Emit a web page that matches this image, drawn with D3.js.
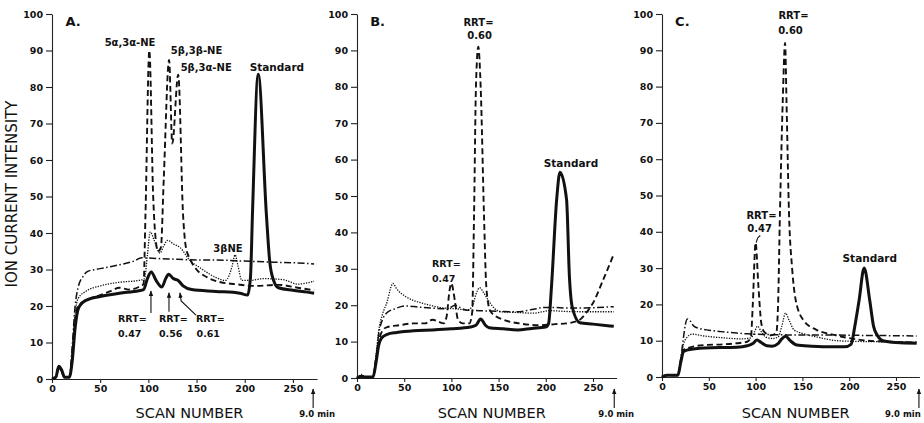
<!DOCTYPE html>
<html>
<head>
<meta charset="utf-8">
<script src="https://cdn.jsdelivr.net/npm/d3@7"></script>
<style>
body { margin: 0; background: #fff; }
svg text { font-family: "DejaVu Sans", sans-serif; fill: #111; }
.tick text { font-weight: bold; font-size: 9.5px; }
.domain, .tick line { stroke: #222; stroke-width: 1.1; }
</style>
</head>
<body>
<div id="chart"></div>
<script>

// Data: [scan number, ion current intensity]
// ============================================

// Panel A
var aSolid = [[0,0],[4,0.5],[7,3.5],[10,2.5],[13,0.5],[18,0.5],[21,5],[24,14],[27,19],[32,21],[40,22],[50,22.6],[70,23.5],[90,24.2],[95,24.5],[99,27.5],[103,29.3],[108,27],[114,25.2],[118,27.5],[121,28.7],[126,27.5],[131,27],[136,25.5],[145,24.5],[170,24],[195,23.5],[203,23],[206,28],[208,45],[214,83.5],[222.5,45],[226,32],[230,27],[235,25],[250,24.3],[265,23.8],[272,23.5]];
var aDashed = [[0,0],[4,0.5],[7,3],[10,2],[13,0.5],[18,0.5],[21,6],[24,16],[27,20],[35,21.5],[50,23],[60,24],[70,25],[80,24.5],[90,25.2],[95,26],[97,45],[101,90],[105,50],[107,40],[110,35],[113,36],[116,55],[121.5,87.4],[124.8,64.5],[131,83.4],[136,45],[139,36],[143,33],[150,30],[160,28],[175,26.5],[190,26],[210,25.5],[235,25.8],[255,25],[272,24.3]];
var aDotted = [[0,0],[4,0.5],[7,3],[10,2],[13,0.5],[18,0.5],[21,8],[24,18],[27,22],[35,24],[50,25.5],[70,26.5],[90,27],[96,27.5],[99,34],[102,40.3],[106,38],[112,34.5],[116,36.5],[120,38],[126,37],[133,36],[143,32.5],[154,30.4],[171,27.7],[180,27],[184,28.5],[187,31],[190,34],[193,31],[197,27],[205,27],[220,27.5],[240,27.2],[255,26],[272,26.8]];
var aDashDot = [[0,0],[4,0.5],[7,3],[10,2],[13,0.5],[18,0.5],[21,9],[24,20],[27,25],[32,28],[37,29.5],[45,30],[55,30.5],[70,31.3],[85,32.3],[93,33.2],[110,33],[130,32.8],[150,32.6],[170,32.6],[200,32.3],[230,32],[255,31.8],[272,31.5]];

// Panel B
var bSolid = [[0,0],[5,0.5],[8,0.3],[17,0.3],[20,4],[23,9],[26,11],[32,12],[42,12.5],[60,13],[80,13.2],[100,13.5],[120,14],[126,14.5],[131,16.2],[136,14.5],[140,13.8],[155,13.5],[170,13.2],[185,13.6],[200,14],[203,15],[206,25],[211.5,49],[215,56.5],[222,49],[225,28],[228,19.5],[236,15.2],[250,14.8],[272,14.2]];
var bDashed = [[0,0],[5,0.5],[8,0.3],[17,0.3],[20,5],[23,10],[27,13],[32,14],[45,14.5],[60,15],[72,15],[80,16],[86,15.5],[92,15],[95,17],[98,24],[100,26],[102,24],[104,20.6],[107,16],[112,15],[119,15],[122,18],[124,45],[126,80],[128.5,91],[131,80],[134.5,45],[137,25],[141,18.5],[147,17],[155,16],[172,15],[194,14.5],[210,14.8],[222,15],[236,16],[243,18],[250,20.6],[260,26.5],[272,34]];
var bDotted = [[0,0],[5,1],[8,0.3],[17,0.3],[20,6],[23,13],[27,17.5],[32,21],[36,25],[38,26],[42,24.5],[52,22.3],[60,21.3],[70,20.5],[80,19.8],[90,19.3],[105,19],[116,18.7],[122,19.5],[126,23],[130,24.8],[134,23.5],[140,21],[146,19],[152,18.2],[170,18],[187,17.8],[204,18.5],[220,18.3],[240,18.2],[272,18.2]];
var bDashDot = [[0,0],[5,0.5],[8,0.3],[17,0.3],[20,5],[23,12],[27,16],[32,18],[40,19],[52,19.8],[65,19.5],[80,19.2],[95,19],[100,19.5],[104,20],[108,19.5],[115,18.7],[130,18.5],[150,18.3],[170,18.2],[185,18.8],[200,19.4],[230,19.2],[250,19.3],[272,19.6]];

// Panel C
var cSolid = [[0,0],[5,0.5],[9,0.5],[17,0.5],[20,4],[23,7],[28,7.5],[45,8],[80,8.2],[91,8.6],[97,9.2],[101.5,10.2],[106,9.5],[112,8.6],[117.5,8.5],[124,9.2],[128,10.5],[132,11.2],[137,10],[144,8.8],[160,8.5],[180,8.3],[195,8.3],[202,9],[206,14],[210.5,21],[216,30],[222,21],[226,14],[230,11.5],[236,10],[250,9.5],[272,9.3]];
var cDashed = [[0,0],[5,0.5],[9,0.5],[17,0.5],[20,4],[23,7.5],[28,8],[45,8.8],[65,9],[80,9.3],[91,9.7],[95,11],[97,20],[100,37],[103,25],[106,15],[109,12.5],[116,11.5],[122,12],[124,20],[126,45],[129,76],[131.5,92],[133,76],[135.7,45],[139,30],[143,21],[151,15.7],[165,13],[184,11.6],[200,10.7],[220,10],[245,9.7],[272,9.5]];
var cDotted = [[0,0],[5,0.5],[9,0.5],[17,0.5],[20,5],[23,9],[27,11],[32,11.8],[45,11.3],[65,10.8],[85,10.5],[95,10.8],[99,12.5],[102,14],[106,12.5],[111,11],[118,10.6],[124,11],[128,14],[132,17.6],[136,15.5],[141,13],[150,12],[166,11],[187,10],[210,9.8],[240,9.7],[272,9.6]];
var cDashDot = [[0,0],[5,0.5],[9,0.5],[17,0.5],[20,5],[23,11],[25,14.5],[27,16],[30,15.5],[34,14],[41,13.3],[50,12.9],[63,12.5],[80,12.1],[91,11.9],[110,11.7],[140,11.6],[170,11.6],[200,11.5],[240,11.4],[272,11.3]];

// Axis ticks
var yTicks = [0, 10, 20, 30, 40, 50, 60, 70, 80, 90, 100];
var xTicks = [0, 50, 100, 150, 200, 250];

// Labels: [text, scan, intensity]
var aLabels = [["5α,3α-NE", 81, 91.2], ["5β,3β-NE", 150, 89], ["5β,3α-NE", 160, 84.4], ["Standard", 233.4, 84.4], ["3βNE", 182.6, 34.8]];
var aRrt = [["RRT=", 68.5, 15.6], ["0.47", 68.5, 11.5], ["RRT=", 111, 15.6], ["0.56", 111, 11.5], ["RRT=", 149.4, 15.6], ["0.61", 150, 11.5]];
var bLabels = [["RRT=", 128.7, 96.7], ["0.60", 129.8, 93.1], ["Standard", 226.7, 58]];
var bRrt = [["RRT=", 79.4, 30.5], ["0.47", 79.4, 26.4]];
var cLabels = [["RRT=", 140.5, 98.6], ["0.60", 137.3, 94.5], ["RRT=", 106.3, 43.5], ["0.47", 104.2, 40], ["Standard", 222, 31.7]];

// Set up the chart
// ================================
var svgWidth = 924;
var svgHeight = 423;

var svg = d3.select("#chart")
    .append("svg")
    .attr("width", svgWidth)
    .attr("height", svgHeight);

// arrowhead marker
svg.append("defs").append("marker")
    .attr("id", "head")
    .attr("viewBox", "0 0 10 10")
    .attr("refX", 9)
    .attr("refY", 5)
    .attr("markerWidth", 5)
    .attr("markerHeight", 5)
    .attr("orient", "auto")
    .append("path")
    .attr("d", "M0,1 L10,5 L0,9 Z")
    .attr("fill", "#111");

var styles = {
    dashDot: { width: 1.5, dash: "7,2.5,1.5,2.5" },
    dotted: { width: 1.3, dash: "1.3,1.3" },
    dashed: { width: 1.9, dash: "6,3.5" },
    solid: { width: 3, dash: null }
};

var panels = [
    { name: "A.", left: 52, right: 317, bottom: 379, top: 14, arrowScan: 271, minShift: 14,
      series: { dashDot: aDashDot, dotted: aDotted, dashed: aDashed, solid: aSolid },
      labels: aLabels, rrt: aRrt,
      arrows: [[[102.7, 18.1], [102.7, 24.1]], [[121.4, 18.4], [121.4, 23.6]], [[149.4, 17.5], [134, 21.4], [132.8, 23.6]]] },
    { name: "B.", left: 357, right: 616.6, bottom: 378, top: 14, arrowScan: 272.5, minShift: 16,
      series: { dashDot: bDashDot, dotted: bDotted, dashed: bDashed, solid: bSolid },
      labels: bLabels, rrt: bRrt, arrows: [] },
    { name: "C.", left: 662, right: 919.4, bottom: 377, top: 14, arrowScan: 274.5, minShift: 34,
      series: { dashDot: cDashDot, dotted: cDotted, dashed: cDashed, solid: cSolid },
      labels: cLabels, rrt: [], arrows: [],
      leaders: [[[105, 39], [102.3, 38.3], [100.7, 37]]] }
];

panels.forEach(function(p) {

    var xScale = d3.scaleLinear().domain([0, 275]).range([p.left, p.right]);
    var yScale = d3.scaleLinear().domain([0, 100]).range([p.bottom, p.top]);

    var g = svg.append("g");

    // axes
    g.append("g")
        .attr("transform", `translate(${p.left}, 0)`)
        .call(d3.axisLeft(yScale).tickValues(yTicks).tickSize(6).tickSizeOuter(0).tickPadding(3));

    g.append("g")
        .attr("transform", `translate(0, ${p.bottom})`)
        .call(d3.axisBottom(xScale).tickValues(xTicks).tickSize(4).tickSizeOuter(0).tickPadding(2));

    // traces
    var line = d3.line()
        .x(d => xScale(d[0]))
        .y(d => yScale(d[1]))
        .curve(d3.curveMonotoneX);

    Object.keys(styles).forEach(function(key) {
        g.append("path")
            .datum(p.series[key])
            .attr("d", line)
            .attr("fill", "none")
            .attr("stroke", "#111")
            .attr("stroke-width", styles[key].width)
            .attr("stroke-dasharray", styles[key].dash)
            .attr("stroke-linejoin", "round");
    });

    // panel letter
    g.append("text")
        .attr("x", xScale(14))
        .attr("y", yScale(96.6))
        .attr("font-size", "13px")
        .attr("font-weight", "bold")
        .text(p.name);

    // peak labels
    g.selectAll(".peak")
        .data(p.labels)
        .enter()
        .append("text")
        .attr("x", d => xScale(d[1]))
        .attr("y", d => yScale(d[2]))
        .attr("text-anchor", "middle")
        .attr("font-size", d => d[0] == "Standard" ? "10.5px" : "10px")
        .attr("font-weight", "bold")
        .text(d => d[0]);

    g.selectAll(".rrt")
        .data(p.rrt)
        .enter()
        .append("text")
        .attr("x", d => xScale(d[1]))
        .attr("y", d => yScale(d[2]))
        .attr("font-size", "9.5px")
        .attr("font-weight", "bold")
        .text(d => d[0]);

    var plain = d3.line().x(d => xScale(d[0])).y(d => yScale(d[1]));

    p.arrows.forEach(function(a) {
        g.append("path")
            .attr("d", plain(a))
            .attr("fill", "none")
            .attr("stroke", "#111")
            .attr("stroke-width", 1.1)
            .attr("marker-end", "url(#head)");
    });

    (p.leaders || []).forEach(function(a) {
        g.append("path")
            .attr("d", d3.line().x(d => xScale(d[0])).y(d => yScale(d[1])).curve(d3.curveNatural)(a))
            .attr("fill", "none")
            .attr("stroke", "#111")
            .attr("stroke-width", 1.1);
    });

    // x label
    g.append("text")
        .attr("x", (p.left + p.right) / 2 + 5)
        .attr("y", 418)
        .attr("text-anchor", "middle")
        .attr("font-size", "14.5px")
        .text("SCAN NUMBER");

    // 9.0 min marker
    var ax = xScale(p.arrowScan);
    g.append("line")
        .attr("x1", ax).attr("x2", ax)
        .attr("y1", 408).attr("y2", 389)
        .attr("stroke", "#111")
        .attr("stroke-width", 1.1)
        .attr("marker-end", "url(#head)");

    g.append("text")
        .attr("x", ax - p.minShift)
        .attr("y", 417)
        .attr("font-size", "8.5px")
        .attr("font-weight", "bold")
        .text("9.0 min");
});

// y axis label
svg.append("text")
    .attr("transform", "translate(17, 194) rotate(-90)")
    .attr("text-anchor", "middle")
    .attr("font-size", "15px")
    .text("ION CURRENT INTENSITY");

</script>
</body>
</html>
